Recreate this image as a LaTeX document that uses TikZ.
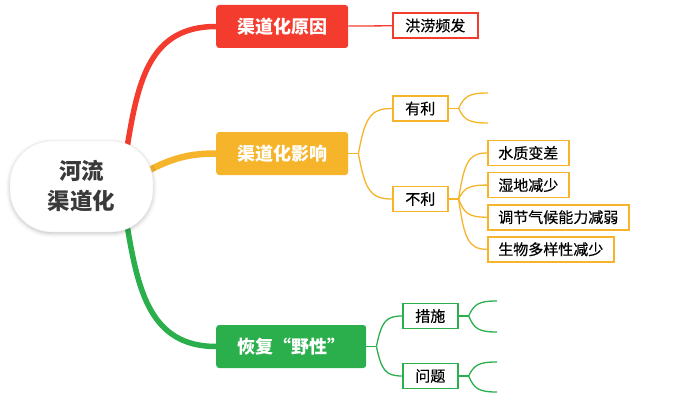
\documentclass[tikz,border=0pt]{standalone}
\usepackage{fontspec}
\setmainfont{Noto Sans CJK SC}
\newfontfamily\leaffont[FakeBold=0.4]{Noto Sans CJK SC}
\usepackage{tikz}
\usetikzlibrary{positioning, calc, backgrounds, shadows.blur}
\definecolor{causered}{HTML}{F43C2E}
\definecolor{effectorange}{HTML}{F6B42B}
\definecolor{restoregreen}{HTML}{2BAF4C}
\definecolor{roottext}{HTML}{3A3A3A}

\begin{document}
\begin{tikzpicture}[
    x=1pt, y=-1pt,
    root/.style={rectangle, draw=black!8, fill=white, minimum width=143pt, minimum height=91pt, rounded corners=42pt, align=center, font=\fontsize{22.5}{30}\selectfont\bfseries, text=roottext, blur shadow={shadow xshift=0pt, shadow yshift=-1.5pt, shadow blur radius=4pt, shadow opacity=25}},
    topic/.style={rectangle, anchor=west, minimum height=43pt, inner xsep=21pt, rounded corners=3pt, text=white, font=\fontsize{18}{20}\selectfont\bfseries},
    sub/.style={rectangle, anchor=west, draw, fill=white, line width=1.6pt, minimum height=25pt, inner xsep=12.5pt, font=\fontsize{15}{17}\leaffont},
    leaf/.style={sub, inner xsep=10.5pt},
    trunk/.style={line width=5.5pt, line cap=round},
    twig/.style={line width=1.3pt},
    fork/.style={to path={let \p1=(\tikztostart), \p2=(\tikztotarget) in
        .. controls ({\x1+0.2*(\x2-\x1)},{\y1+0.8*(\y2-\y1)}) and ({\x1+0.35*(\x2-\x1)},\y2) .. (\tikztotarget)}}
]
\useasboundingbox (0,0) rectangle (691,412);

\node[root] (river) at (81.5,186.5) {河流\\渠道化};

\node[topic, fill=causered] (cause) at (216,26.5) {渠道化原因};
\node[sub, draw=causered] (flood) at (392,25.5) {洪涝频发};

\node[topic, fill=effectorange] (effect) at (216,153.5) {渠道化影响};
\node[sub, draw=effectorange] (good) at (392,108.5) {有利};
\node[sub, draw=effectorange] (bad) at (392,199) {不利};
\node[leaf, draw=effectorange] (water) at (487,153) {水质变差};
\node[leaf, draw=effectorange, below=5.5pt of water.south west, anchor=north west] (wetland) {湿地减少};
\node[leaf, draw=effectorange, below=5.5pt of wetland.south west, anchor=north west] (climate) {调节气候能力减弱};
\node[leaf, draw=effectorange, below=5.5pt of climate.south west, anchor=north west] (species) {生物多样性减少};

\node[topic, fill=restoregreen] (restore) at (216,346.5) {恢复“野性”};
\node[sub, draw=restoregreen] (measure) at (402,316) {措施};
\node[sub, draw=restoregreen] (issue) at (402,376) {问题};

% ends hidden in the picture
\coordinate (good1) at (488,93);
\coordinate (good2) at (488,123);
\coordinate (measure1) at (497,301);
\coordinate (measure2) at (497,332);
\coordinate (issue1) at (497,362);
\coordinate (issue2) at (497,392);

\begin{scope}[on background layer]
\draw[trunk, causered] ([yshift=-6pt]river.45) .. controls (138,80) and (150,26.5) .. (cause.west);
\draw[trunk, effectorange, line width=6.5pt] ([xshift=-6pt]river.12) .. controls (172,158) and (190,153.5) .. (effect.west);
\draw[trunk, restoregreen] ([yshift=6pt]river.-45) .. controls (138,290) and (150,346.5) .. (restore.west);
\end{scope}

\draw[twig, causered] (cause) -- (flood);

\draw[twig, effectorange] (effect.east) -- ++(10,0) coordinate (effectfork);
\foreach \t in {good, bad} \draw[twig, effectorange] (effectfork) to[fork] (\t.west);
\draw[twig, effectorange] (good.east) -- ++(10,0) coordinate (goodfork);
\foreach \t in {good1, good2} \draw[twig, effectorange] (goodfork) to[fork] (\t);
\draw[twig, effectorange] (bad.east) -- ++(10,0) coordinate (badfork);
\foreach \t in {water, wetland, climate, species} \draw[twig, effectorange] (badfork) to[fork] (\t.west);

\draw[twig, restoregreen] (restore.east) -- ++(10,0) coordinate (restorefork);
\foreach \t in {measure, issue} \draw[twig, restoregreen] (restorefork) to[fork] (\t.west);
\draw[twig, restoregreen] (measure.east) -- ++(10,0) coordinate (measurefork);
\foreach \t in {measure1, measure2} \draw[twig, restoregreen] (measurefork) to[fork] (\t);
\draw[twig, restoregreen] (issue.east) -- ++(10,0) coordinate (issuefork);
\foreach \t in {issue1, issue2} \draw[twig, restoregreen] (issuefork) to[fork] (\t);

\end{tikzpicture}
\end{document}
